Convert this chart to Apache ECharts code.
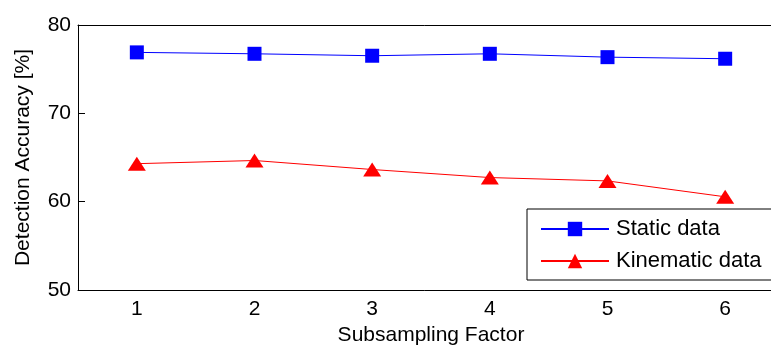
<!DOCTYPE html>
<html>
<head>
<meta charset="utf-8">
<script src="https://cdn.jsdelivr.net/npm/echarts@6/dist/echarts.min.js"></script>
<style>
html,body{margin:0;padding:0;background:#fff;}
#chart{width:771px;height:347px;}
</style>
</head>
<body>
<div id="chart"></div>
<script>
const categories = ['1', '2', '3', '4', '5', '6'];
const staticData = [76.9, 76.74, 76.52, 76.74, 76.36, 76.18];
const kinematicData = [64.3, 64.66, 63.64, 62.73, 62.35, 60.55];
const yTicks = { min: 50, max: 80, interval: 10 };

const FONT = 'Liberation Sans, Arial, sans-serif';
const chart = echarts.init(document.getElementById('chart'), null, { renderer: 'canvas' });
chart.setOption({
  animation: false,
  backgroundColor: '#fff',
  grid: { left: 78, width: 706, top: 25, bottom: 57, containLabel: false, outerBoundsMode: 'none' },
  xAxis: [{
    type: 'category',
    data: categories,
    boundaryGap: true,
    position: 'bottom',
    name: 'Subsampling Factor',
    nameLocation: 'middle',
    nameGap: 34,
    nameTextStyle: { fontFamily: FONT, fontSize: 21, color: '#000' },
    axisLine: { lineStyle: { color: '#000', width: 1 } },
    axisTick: { inside: true, length: 7, alignWithLabel: true, lineStyle: { color: '#000' } },
    axisLabel: { fontFamily: FONT, fontSize: 21, color: '#000', margin: 9 },
    splitLine: { show: false }
  }, {
    type: 'category',
    data: categories,
    boundaryGap: true,
    position: 'top',
    axisLine: { lineStyle: { color: '#000', width: 1 } },
    axisTick: { inside: true, length: 7, alignWithLabel: true, lineStyle: { color: '#000' } },
    axisLabel: { show: false },
    splitLine: { show: false }
  }],
  yAxis: {
    type: 'value',
    min: yTicks.min,
    max: yTicks.max,
    interval: yTicks.interval,
    name: 'Detection Accuracy [%]',
    nameLocation: 'middle',
    nameGap: 44,
    nameTextStyle: { fontFamily: FONT, fontSize: 21, color: '#000' },
    axisLine: { show: true, lineStyle: { color: '#000', width: 1 } },
    axisTick: { show: true, inside: true, length: 7, lineStyle: { color: '#000' } },
    axisLabel: { fontFamily: FONT, fontSize: 21, color: '#000', margin: 7 },
    splitLine: { show: false }
  },
  legend: {
    orient: 'vertical',
    left: 527,
    top: 209,
    padding: [9, 16, 8, 13],
    itemGap: 10,
    itemWidth: 68,
    itemHeight: 18,
    backgroundColor: '#fff',
    borderColor: '#000',
    borderWidth: 1,
    borderRadius: 0,
    textStyle: { fontFamily: FONT, fontSize: 22, color: '#000', padding: [0, 0, 0, 2] },
    data: ['Static data', 'Kinematic data']
  },
  series: [{
    name: 'Static data',
    type: 'line',
    data: staticData,
    symbol: 'rect',
    symbolSize: 14,
    itemStyle: { color: '#0000ff' },
    lineStyle: { color: '#0000ff', width: 1 }
  }, {
    name: 'Kinematic data',
    type: 'line',
    data: kinematicData,
    symbol: 'triangle',
    symbolSize: [18, 14],
    itemStyle: { color: '#ff0000' },
    lineStyle: { color: '#ff0000', width: 1 }
  }]
});
</script>
</body>
</html>
